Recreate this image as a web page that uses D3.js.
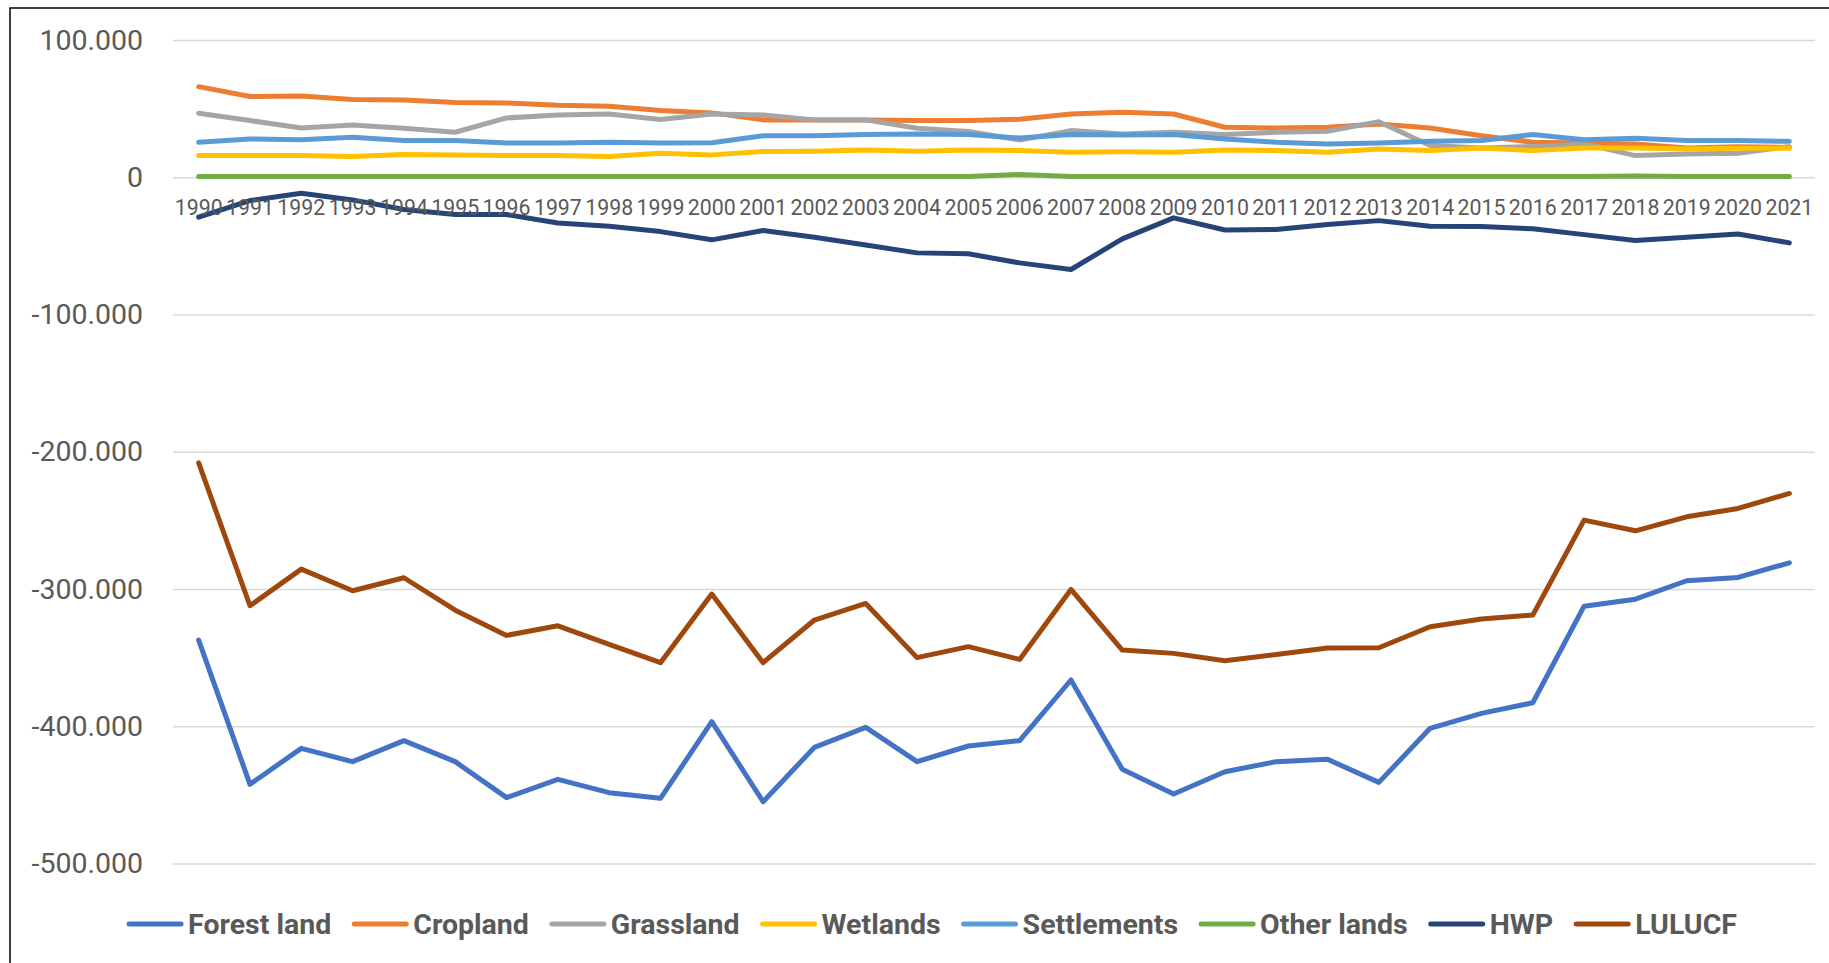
<!DOCTYPE html>
<html>
<head>
<meta charset="utf-8">
<script src="https://cdn.jsdelivr.net/npm/d3@7"></script>
<style>
  body { margin: 0; background: #fff; }
  text { font-family: Roboto, "Open Sans", sans-serif; fill: #595959; }
</style>
</head>
<body>
<script>
const width = 1829
const height = 963
const left = 173
const right = 1815

const years = ['1990', '1991', '1992', '1993', '1994', '1995', '1996', '1997', '1998', '1999', '2000', '2001', '2002', '2003', '2004', '2005',
  '2006', '2007', '2008', '2009', '2010', '2011', '2012', '2013', '2014', '2015', '2016', '2017', '2018', '2019', '2020', '2021']
const yTicks = [100000, 0, -100000, -200000, -300000, -400000, -500000]

const forestLand = [-337200, -442300, -416100, -425800, -410500, -425800, -452000, -438700, -448400, -452500, -396700, -455000, -415400, -400800, -425800, -414400,
  -410500, -366300, -431400, -449400, -433100, -425800, -424100, -440900, -401500, -390600, -382900, -312500, -307400, -294000, -291600, -280900]
const cropland = [66000, 58800, 59200, 56600, 56300, 54400, 54100, 52400, 51700, 48600, 46900, 41800, 41800, 41800, 41300, 41300,
  42200, 46100, 47300, 46100, 36400, 35900, 36400, 38800, 35900, 30300, 25500, 25000, 24300, 21400, 22300, 21800]
const grassland = [46600, 41300, 35900, 38100, 35700, 32800, 43200, 45400, 46100, 42000, 46100, 45400, 41800, 41800, 35700, 33300,
  27200, 34000, 31600, 32800, 31100, 32800, 33500, 40500, 23100, 21400, 22300, 24300, 15800, 17000, 17500, 22300]
const wetlands = [15800, 15800, 15800, 15100, 16500, 16300, 15800, 15800, 15100, 17500, 16300, 18700, 18900, 19900, 18900, 19900,
  19400, 18200, 18500, 18200, 19900, 19400, 18200, 20600, 19400, 21400, 19400, 21400, 21400, 20600, 21100, 21100]
const settlements = [25500, 27900, 27400, 29100, 26700, 26700, 25000, 25000, 25500, 25000, 25200, 30300, 30300, 31100, 31600, 31100,
  28600, 31100, 30800, 31100, 27900, 25500, 24300, 25000, 26200, 26700, 31100, 27400, 28400, 26700, 26700, 26200]
const otherLands = [500, 500, 500, 500, 500, 500, 500, 500, 500, 500, 500, 500, 500, 500, 500, 500,
  2000, 500, 500, 500, 500, 500, 500, 500, 500, 500, 500, 500, 1000, 500, 500, 500]
const hwp = [-29100, -17000, -11700, -16500, -23500, -27200, -27200, -33300, -35700, -39600, -45600, -38800, -43700, -49300, -55100, -55800,
  -62400, -67200, -44900, -29600, -38400, -38100, -34500, -31600, -35700, -35900, -37600, -41800, -46100, -43700, -41300, -47800]
const lulucf = [-208100, -312200, -285500, -301300, -291800, -315400, -333800, -326800, -340400, -353700, -303700, -353700, -322600, -310500, -350000, -342000,
  -351300, -300300, -344500, -346900, -352300, -347700, -343000, -342800, -327500, -321900, -319000, -249800, -257600, -247400, -241300, -230400]

const seriesNames = ['Forest land', 'Cropland', 'Grassland', 'Wetlands', 'Settlements', 'Other lands', 'HWP', 'LULUCF']
const seriesValues = [forestLand, cropland, grassland, wetlands, settlements, otherLands, hwp, lulucf]
const colorArray = ['#4472C4', '#ED7D31', '#A5A5A5', '#FFC000', '#5B9BD5', '#70AD47', '#264478', '#9E480E']

// european number format: 100.000
const locale = d3.formatLocale({ decimal: ',', thousands: '.', grouping: [3], currency: ['', ''], minus: '-' })
const fmt = locale.format(',')

// create svg + chart border
const svg = d3.select('body')
        .append('svg')
        .attr('width', width)
        .attr('height', height)

svg.append('rect')
        .attr('x', 10)
        .attr('y', 8)
        .attr('width', width + 20)
        .attr('height', height + 20)
        .attr('fill', 'none')
        .attr('stroke', '#000')
        .attr('stroke-width', 1.5)

// scales
const xScale = d3.scaleBand()
        .domain(years)
        .range([left, right])

const yScale = d3.scaleLinear()
        .domain([-500000, 100000])
        .range([863.5, 40])

// gridlines + y labels
const yAxis = d3.axisLeft()
        .scale(yScale)
        .tickValues(yTicks)
        .tickSize(-(right - left))
        .tickPadding(30)
        .tickFormat(d => fmt(d))

svg.append('g')
        .attr('id', 'y-axis')
        .attr('transform', 'translate(' + left + ',0)')
        .call(yAxis)
        .call(g => g.select('.domain').remove())
        .call(g => g.selectAll('line').attr('stroke', '#D9D9D9').attr('stroke-width', 1.5))
        .call(g => g.selectAll('text')
            .attr('font-size', '28.5px')
            .attr('fill', '#595959')
            .style('font-family', 'Roboto, sans-serif'))

// lines
const line = d3.line()
        .x((d, i) => xScale(years[i]) + xScale.bandwidth() / 2)
        .y(d => yScale(d))

svg.selectAll('.series')
        .data(seriesValues)
        .join('path')
        .attr('class', 'series')
        .attr('d', d => line(d))
        .attr('fill', 'none')
        .attr('stroke', (d, i) => colorArray[i])
        .attr('stroke-width', 5)
        .attr('stroke-linejoin', 'round')
        .attr('stroke-linecap', 'round')

// x labels sit below the zero line
const xAxis = d3.axisBottom()
        .scale(xScale)
        .tickSize(0)
        .tickPadding(23)

svg.append('g')
        .attr('id', 'x-axis')
        .attr('transform', 'translate(0,' + yScale(0) + ')')
        .call(xAxis)
        .call(g => g.select('.domain').remove())
        .call(g => g.selectAll('text')
            .attr('font-size', '21.3px')
            .attr('fill', '#595959')
            .style('font-family', 'Roboto, sans-serif'))

// legend
const legend = svg.append('g')
        .attr('id', 'legend')

const items = legend.selectAll('.item')
        .data(seriesNames)
        .join('g')
        .attr('class', 'item')

items.append('line')
        .attr('x1', 2)
        .attr('x2', 54)
        .attr('y1', 0)
        .attr('y2', 0)
        .attr('stroke', (d, i) => colorArray[i])
        .attr('stroke-width', 5)
        .attr('stroke-linecap', 'round')

items.append('text')
        .text(d => d)
        .attr('x', 61)
        .attr('y', 0)
        .attr('dy', '0.35em')
        .attr('font-size', '28.5px')
        .attr('font-weight', 'bold')

let pos = 0
const gap = 21
items.each(function () {
    const w = 61 + this.querySelector('text').getComputedTextLength()
    d3.select(this).attr('transform', 'translate(' + pos + ',0)')
    pos += w + gap
})
const total = pos - gap
legend.attr('transform', 'translate(' + (932 - total / 2) + ',924)')
</script>
</body>
</html>
